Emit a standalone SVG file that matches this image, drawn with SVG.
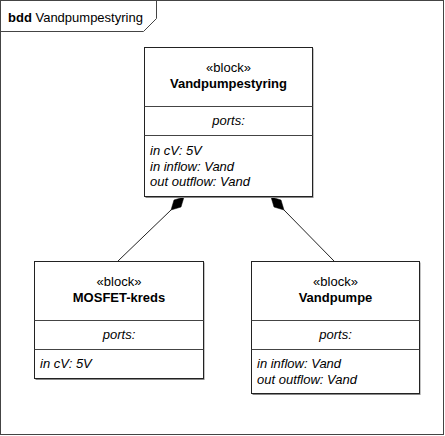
<svg xmlns="http://www.w3.org/2000/svg" width="445" height="436" viewBox="0 0 445 436">
<style>
text{font-family:"Liberation Sans",Arial,sans-serif;font-size:13px;fill:#000}
.c{text-anchor:middle}
.b{font-weight:bold}
.i{font-style:italic}
.box{fill:#fff;stroke:#222;stroke-width:1}
.sh{fill:#888}
.div{stroke:#444;stroke-width:1}
.frame{fill:#fff;stroke:#444;stroke-width:1}
.edge{stroke:#222;stroke-width:1;fill:none}
.dia{fill:#000;stroke:#000;stroke-width:0.5}
</style>
<rect class="frame" x="0.5" y="0.5" width="443" height="434"/>
<path d="M0.5,31.5 H143.5 L156.5,18.5 V0.5" fill="none" stroke="#444"/>
<text x="8" y="22"><tspan class="b">bdd</tspan> Vandpumpestyring</text>

<g id="connectors">
<line class="edge" x1="171" y1="210" x2="118" y2="261"/>
<polygon class="dia" points="184,197 181,207 171,210 174,200"/>
<line class="edge" x1="284" y1="210" x2="334" y2="261"/>
<polygon class="dia" points="271,197 281,200 284,210 274,207"/>
</g>

<g id="Vandpumpestyring">
<rect class="sh" x="145.5" y="48.5" width="168" height="149.5"/>
<rect class="box" x="144.5" y="47.5" width="168" height="149"/>
<line class="div" x1="144.5" y1="106.5" x2="312.5" y2="106.5"/>
<line class="div" x1="144.5" y1="135.5" x2="312.5" y2="135.5"/>
<text class="c" x="228.5" y="72">«block»</text>
<text class="c b" x="228.5" y="88">Vandpumpestyring</text>
<text class="c i" x="228.5" y="125">ports:</text>
<text class="i" x="150" y="155">in cV: 5V</text>
<text class="i" x="150" y="170.5">in inflow: Vand</text>
<text class="i" x="150" y="186">out outflow: Vand</text>
</g>

<g id="MOSFET-kreds">
<rect class="sh" x="35.5" y="262.5" width="169" height="117.5"/>
<rect class="box" x="34.5" y="261.5" width="169" height="117"/>
<line class="div" x1="34.5" y1="320.5" x2="203.5" y2="320.5"/>
<line class="div" x1="34.5" y1="349.5" x2="203.5" y2="349.5"/>
<text class="c" x="119" y="286">«block»</text>
<text class="c b" x="119" y="302">MOSFET-kreds</text>
<text class="c i" x="119" y="339">ports:</text>
<text class="i" x="40" y="368">in cV: 5V</text>
</g>

<g id="Vandpumpe">
<rect class="sh" x="252.5" y="262.5" width="168" height="132.5"/>
<rect class="box" x="251.5" y="261.5" width="168" height="132"/>
<line class="div" x1="251.5" y1="320.5" x2="419.5" y2="320.5"/>
<line class="div" x1="251.5" y1="349.5" x2="419.5" y2="349.5"/>
<text class="c" x="335.5" y="286">«block»</text>
<text class="c b" x="335.5" y="302">Vandpumpe</text>
<text class="c i" x="335.5" y="339">ports:</text>
<text class="i" x="257" y="368">in inflow: Vand</text>
<text class="i" x="257" y="383.5">out outflow: Vand</text>
</g>
</svg>
